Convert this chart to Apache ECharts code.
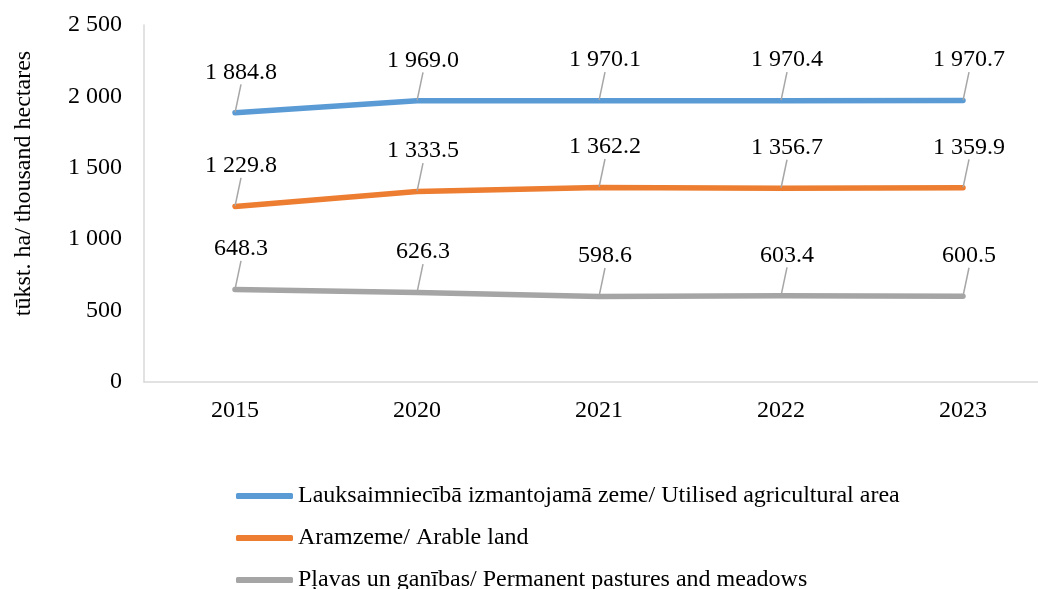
<!DOCTYPE html>
<html>
<head>
<meta charset="utf-8">
<script src="https://cdn.jsdelivr.net/npm/echarts@6/dist/echarts.min.js"></script>
<style>
  html, body { margin: 0; padding: 0; background: #fff; overflow: hidden; }
  #chart { width: 1060px; height: 620px; }
</style>
</head>
<body>
<div id="chart"></div>
<script>
// gadi
const years = ["2015", "2020", "2021", "2022", "2023"];

// tūkst. ha
const utilisedArea = [1884.8, 1969.0, 1970.1, 1970.4, 1970.7];
const arableLand = [1229.8, 1333.5, 1362.2, 1356.7, 1359.9];
const pastures = [648.3, 626.3, 598.6, 603.4, 600.5];

const seriesNames = [
  "Lauksaimniecībā izmantojamā zeme/ Utilised agricultural area",
  "Aramzeme/ Arable land",
  "Pļavas un ganības/ Permanent pastures and meadows"
];
const colors = ["#5B9BD5", "#ED7D31", "#A5A5A5"];

const font = "'Liberation Serif', 'Times New Roman', serif";

// 1 884.8 formāts
function fmt(v, dec) {
  let s = v.toFixed(dec);
  let parts = s.split(".");
  parts[0] = parts[0].replace(/\B(?=(\d{3})+(?!\d))/g, " ");
  return parts.join(".");
}

function makeSeries(name, data, color) {
  return {
    name: name,
    type: "line",
    data: data,
    symbol: "circle",
    symbolSize: 1,
    showSymbol: true,
    lineStyle: { width: 5.5, color: color, cap: "round", join: "round" },
    itemStyle: { color: color },
    label: {
      show: true,
      position: "top",
      distance: 5,
      color: "#000",
      fontFamily: font,
      fontSize: 24,
      formatter: (p) => fmt(p.value, 1)
    },
    labelLine: {
      show: true,
      lineStyle: { color: "#A6A6A6", width: 1.5 }
    },
    labelLayout: { dx: 6, dy: -23 },
    emphasis: { disabled: true }
  };
}

// konteiners ir platāks par logu, lai ass turpinās aiz malas
const chart = echarts.init(document.getElementById("chart"));
chart.setOption({
  animation: false,
  textStyle: { fontFamily: font },
  grid: { left: 144, top: 25, right: 6, height: 357, containLabel: false },
  xAxis: {
    type: "category",
    data: years,
    boundaryGap: true,
    axisTick: { show: false },
    axisLine: { lineStyle: { color: "#D9D9D9", width: 1.5 } },
    axisLabel: { color: "#000", fontFamily: font, fontSize: 24, margin: 17 }
  },
  yAxis: {
    type: "value",
    min: 0,
    max: 2500,
    interval: 500,
    name: "tūkst. ha/ thousand hectares",
    nameLocation: "middle",
    nameGap: 108,
    nameTextStyle: { color: "#000", fontFamily: font, fontSize: 24, padding: [0, 0, 0, 40] },
    axisLine: { show: true, lineStyle: { color: "#D9D9D9", width: 1.5 } },
    axisTick: { show: false },
    splitLine: { show: false },
    axisLabel: {
      color: "#000",
      fontFamily: font,
      fontSize: 24,
      margin: 22,
      formatter: (v) => fmt(v, 0)
    }
  },
  legend: {
    orient: "vertical",
    left: 231,
    top: 479,
    icon: "roundRect",
    itemWidth: 57,
    itemHeight: 6,
    itemGap: 18,
    textStyle: { color: "#000", fontFamily: font, fontSize: 24 },
    data: seriesNames
  },
  series: [
    makeSeries(seriesNames[0], utilisedArea, colors[0]),
    makeSeries(seriesNames[1], arableLand, colors[1]),
    makeSeries(seriesNames[2], pastures, colors[2])
  ]
});
</script>
</body>
</html>
